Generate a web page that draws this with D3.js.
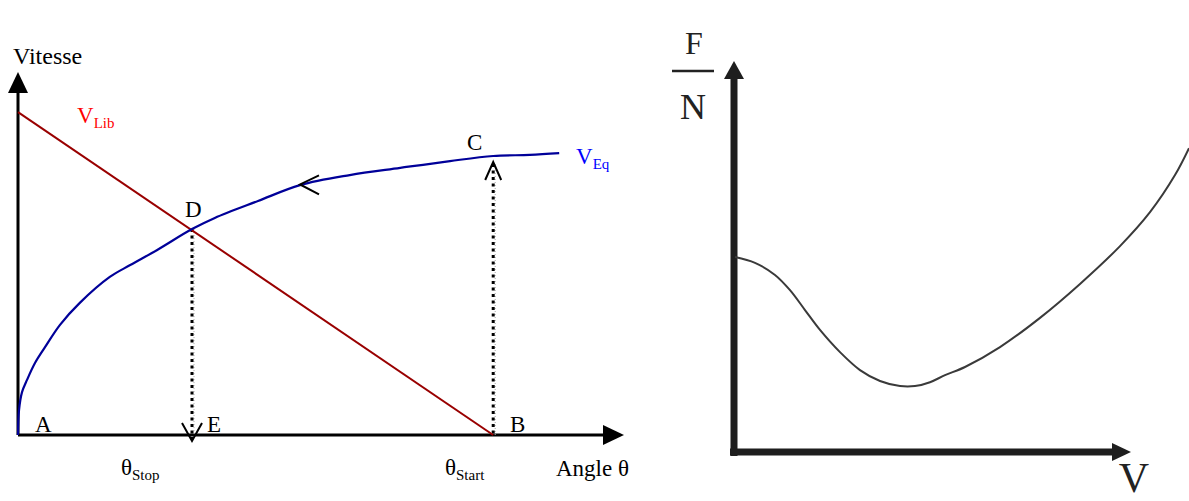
<!DOCTYPE html>
<html><head><meta charset="utf-8">
<script src="https://cdn.jsdelivr.net/npm/d3@7"></script>
<style>
html,body{margin:0;padding:0;background:#fff;}
svg{display:block;}
text{font-family:"Liberation Serif","Times New Roman",serif;}
</style></head>
<body>
<svg id="c" width="1189" height="501"></svg>
<script>
// ---- Left chart data (angle theta, speed) ----
const libTheta = [0, 79.2];
const libSpeed = [89.7, 0];
const eqTheta = [0, 0.17, 0.67, 1.5, 2.83, 4.5, 7, 10.3, 15.3, 18.7, 23.2, 29, 32.8, 40, 47, 55.3, 63.7, 72, 79.2, 85.3, 90.2];
const eqSpeed = [0, 6.9, 11.9, 15.3, 20, 24.4, 30.6, 36.7, 43.9, 47.2, 51.4, 57.2, 60.3, 65, 69.4, 72.2, 74.2, 76.1, 77.5, 77.8, 78.3];
const thetaStop = 29, speedStop = 57.2;
const thetaStart = 79.2, speedStart = 77.5;
const arrowTheta = 47, arrowSpeed = 69.6;
// ---- Right chart data (V, F/N) ----
const fvV = [0.25, 5.25, 10.25, 14, 17.75, 21.5, 26.5, 31.5, 36.5, 41.5, 45.25, 49, 52.75, 57.75, 66.5, 76.5, 86.5, 96.5, 104, 110.25, 113.75];
const fvF = [50, 48.5, 45.4, 41.5, 36.4, 31.3, 25.6, 21, 18.2, 16.9, 16.9, 17.9, 19.7, 21.8, 26.9, 34.4, 43.1, 52.8, 61.5, 71, 77.9];

const svg = d3.select("#c");

// ---------- LEFT CHART ----------
const xL = d3.scaleLinear().domain([0, 100]).range([18, 618]);
const yL = d3.scaleLinear().domain([0, 100]).range([435, 75]);

// axes
svg.append("line").attr("x1", xL(0)).attr("y1", yL(0)).attr("x2", xL(0)).attr("y2", 92)
  .attr("stroke", "#000").attr("stroke-width", 3);
svg.append("path").attr("d", `M${xL(0)-10},93 L${xL(0)},72 L${xL(0)+10},93 Z`).attr("fill", "#000");
svg.append("line").attr("x1", xL(0)).attr("y1", yL(0)).attr("x2", 604).attr("y2", yL(0))
  .attr("stroke", "#000").attr("stroke-width", 3);
svg.append("path").attr("d", `M603,${yL(0)-10} L624,${yL(0)} L603,${yL(0)+10} Z`).attr("fill", "#000");

// dotted verticals
function dotted(x, y1, y2) {
  svg.append("line").attr("x1", x+2).attr("x2", x+2).attr("y1", y1).attr("y2", y2)
    .attr("stroke", "#aaa").attr("stroke-width", 1).attr("stroke-dasharray", "1,2");
  svg.append("line").attr("x1", x).attr("x2", x).attr("y1", y1).attr("y2", y2)
    .attr("stroke", "#000").attr("stroke-width", 3).attr("stroke-dasharray", "3,3.5");
}
dotted(xL(thetaStop), yL(speedStop), yL(0) + 4);
dotted(xL(thetaStart), yL(speedStart) + 8, yL(0));

// V_Lib line
const libData = libTheta.map((t, i) => [t, libSpeed[i]]);
svg.append("path").datum(libData)
  .attr("d", d3.line().x(d => xL(d[0])).y(d => yL(d[1])))
  .attr("fill", "none").attr("stroke", "#990000").attr("stroke-width", 2);

// V_Eq curve
const eqData = eqTheta.map((t, i) => [t, eqSpeed[i]]);
svg.append("path").datum(eqData)
  .attr("d", d3.line().x(d => xL(d[0])).y(d => yL(d[1])).curve(d3.curveCatmullRom.alpha(0.5)))
  .attr("fill", "none").attr("stroke", "#000099").attr("stroke-width", 2.2);

// arrowheads on dotted lines and curve
const sx = xL(thetaStop), sy = yL(0) + 6;
svg.append("path").attr("d", `M${sx-10},${sy-18} L${sx},${sy} L${sx+10},${sy-18}`)
  .attr("fill", "none").attr("stroke", "#000").attr("stroke-width", 2);
const bx = xL(thetaStart), by = yL(speedStart) + 6;
svg.append("path").attr("d", `M${bx-8},${by+18} L${bx},${by} L${bx+8},${by+18}`)
  .attr("fill", "none").attr("stroke", "#000").attr("stroke-width", 2);
const ax = xL(arrowTheta), ay = yL(arrowSpeed);
svg.append("path").attr("d", `M${ax+19},${ay-9} L${ax},${ay} L${ax+19},${ay+10}`)
  .attr("fill", "none").attr("stroke", "#000").attr("stroke-width", 2);

// labels
function lab(x, y, txt, size, color, sub, subSize) {
  const t = svg.append("text").attr("x", x).attr("y", y).attr("font-size", size).attr("fill", color).text(txt);
  if (sub) t.append("tspan").attr("dy", 5).attr("font-size", subSize).text(sub);
  return t;
}
lab(13, 64, "Vitesse", 24, "#000");
lab(77, 123, "V", 23, "#ff0000", "Lib", 15);
lab(467, 150, "C", 23, "#000");
lab(576, 164, "V", 23, "#0000ff", "Eq", 15);
lab(185, 217, "D", 23, "#000");
lab(35, 432, "A", 23, "#000");
lab(207, 432, "E", 23, "#000");
lab(510, 432, "B", 23, "#000");
lab(121, 475, "θ", 23, "#000", "Stop", 15);
lab(445, 475, "θ", 23, "#000", "Start", 15);
lab(556, 476, "Angle θ", 23, "#000");

// ---------- RIGHT CHART ----------
const xR = d3.scaleLinear().domain([0, 100]).range([734, 1134]);
const yR = d3.scaleLinear().domain([0, 100]).range([452, 62]);
const axc = "#1e1e1e";
svg.append("line").attr("x1", xR(0)).attr("x2", xR(0)).attr("y1", yR(0) + 4).attr("y2", 76)
  .attr("stroke", axc).attr("stroke-width", 7);
svg.append("path").attr("d", `M${xR(0)-10},79 L${xR(0)},61 L${xR(0)+10},79 Z`).attr("fill", axc);
svg.append("line").attr("x1", xR(0) - 4).attr("x2", 1116).attr("y1", yR(0)).attr("y2", yR(0))
  .attr("stroke", axc).attr("stroke-width", 7);
svg.append("path").attr("d", `M1112,${yR(0)-9} L1131,${yR(0)} L1112,${yR(0)+9} Z`).attr("fill", axc);

const fvData = fvV.map((v, i) => [v, fvF[i]]);
svg.append("path").datum(fvData)
  .attr("d", d3.line().x(d => xR(d[0])).y(d => yR(d[1])).curve(d3.curveCatmullRom.alpha(0.5)))
  .attr("fill", "none").attr("stroke", "#3a3a3a").attr("stroke-width", 2);

svg.append("text").attr("x", 694).attr("y", 54).attr("text-anchor", "middle")
  .attr("font-size", 32).attr("fill", "#222").text("F");
svg.append("line").attr("x1", 672).attr("x2", 714).attr("y1", 71).attr("y2", 71)
  .attr("stroke", "#222").attr("stroke-width", 2.5);
svg.append("text").attr("x", 693).attr("y", 119).attr("text-anchor", "middle")
  .attr("font-size", 36).attr("fill", "#222").text("N");
svg.append("text").attr("x", 1134).attr("y", 492).attr("text-anchor", "middle")
  .attr("font-size", 42).attr("fill", "#222").text("V");
</script>
</body></html>
